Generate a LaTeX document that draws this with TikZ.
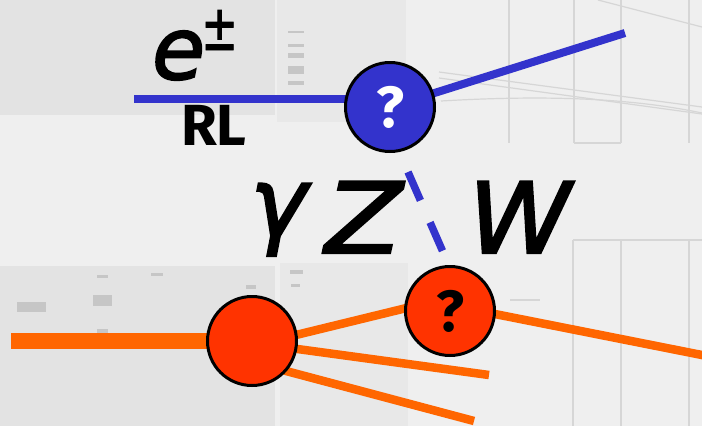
\documentclass[tikz,border=0pt]{standalone}
\usepackage{fontspec}
\setmainfont{Fira Sans}
\newfontfamily\dvs{DejaVu Sans Oblique}[FakeBold=2.2]
\newfontfamily\dvsup{DejaVu Sans}[FakeBold=1.5]
\pgfdeclarelayer{bglayer}
\pgfdeclarelayer{linelayer}
\pgfsetlayers{bglayer,linelayer,main}
\definecolor{eblue}{HTML}{3333CC}
\definecolor{oline}{HTML}{FF6600}
\definecolor{ofill}{HTML}{FF3300}
\definecolor{bgbase}{HTML}{EFEFEF}
\definecolor{bgdark}{HTML}{E3E3E3}
\definecolor{bgmid}{HTML}{E8E8E8}
\definecolor{faint}{HTML}{D6D6D6}
\definecolor{mark}{HTML}{C6C6C6}
\tikzset{
  blob/.style={circle, draw=black, line width=3pt, minimum size=89pt, inner sep=0pt,
    font=\fontsize{58}{58}\bfseries\selectfont},
  bluevertex/.style={blob, fill=eblue, text=white},
  orangevertex/.style={blob, fill=ofill, text=black},
  bluelinestyle/.style={draw=eblue, line width=8pt},
  orangeline/.style={draw=oline, line width=8.5pt},
  beamline/.style={draw=oline, line width=16pt},
  bosonline/.style={draw=eblue, line width=7.5pt, dash pattern=on 31pt off 24pt},
  bigletter/.style={inner sep=0pt, anchor=base west, font=\dvs\fontsize{98}{98}\selectfont},
  bgline/.style={draw=faint, line width=1.2pt},
  bgmark/.style={fill=mark}
}
\begin{document}
\begin{tikzpicture}[x=1pt, y=-1pt]
\clip (0,0) rectangle (702,426);
\useasboundingbox (0,0) rectangle (702,426);
% ---------- faded background ----------
\begin{pgfonlayer}{bglayer}
\fill[bgbase] (0,0) rectangle (702,426);
\fill[bgdark] (0,0) rectangle (275,115);
\fill[bgmid] (277,0) rectangle (406,122);
\fill[bgdark] (0,266) rectangle (275,426);
\fill[bgmid] (280,263) rectangle (408,426);
\foreach \yy/\hh in {31/2, 44/3, 53/5, 66/8, 81/4}{
  \fill[bgmark] (288,\yy) rectangle (304,\yy+\hh);
}
\fill[bgmark] (17,302) rectangle (46,312);
\fill[bgmark] (93,295) rectangle (112,306);
\fill[bgmark] (97,275) rectangle (108,278);
\fill[bgmark] (151,273) rectangle (163,276);
\fill[bgmark] (97,329) rectangle (108,333);
\fill[bgmark] (246,285) rectangle (256,289);
\fill[bgmark] (290,270) rectangle (303,274);
\fill[bgmark] (291,284) rectangle (300,287);
\foreach \xx in {509,574,621,689}{
  \draw[bgline] (\xx,0) -- (\xx,143);
}
\draw[bgline] (574,143) -- (621,143);
\foreach \xx in {573,621,689}{
  \draw[bgline] (\xx,240) -- (\xx,426);
}
\draw[bgline] (573,240) -- (702,240);
\draw[bgline] (439,72) -- (702,107);
\draw[bgline] (439,78) -- (702,114);
\draw[bgline] (441,101) .. controls (560,94) and (640,100) .. (702,113);
\draw[bgline] (598,0) -- (702,27);
\draw[bgline] (510,300) -- (540,300);
\end{pgfonlayer}
% ---------- vertices ----------
\node[bluevertex] (bq) at (390,107) {?};
\node[orangevertex] (bigO) at (252,341) {};
\node[orangevertex] (smallO) at (450,311) {?};
% ---------- free ends ----------
\coordinate (eL) at (134,99);
\coordinate (eOut) at (625,33);
\coordinate (pL) at (11,341);
\coordinate (f2) at (489,375);
\coordinate (f3) at (474,421);
\coordinate (fOut) at (712,357);
\coordinate (dA) at (408,172);
\coordinate (dB) at (443,252);
% ---------- connectors ----------
\begin{pgfonlayer}{linelayer}
\draw[bluelinestyle] (eL) -- (eL -| bq.center);
\draw[bluelinestyle] (bq.center) -- (eOut);
\draw[beamline] (pL) -- (bigO.center);
\draw[orangeline, shorten <=-6pt, shorten >=-6pt] (bigO.8) -- (smallO.177);
\draw[orangeline, shorten <=-6pt] (bigO.-10) -- (f2);
\draw[orangeline, shorten <=-6pt] (bigO.-41) -- (f3);
\draw[orangeline, shorten <=-6pt] (smallO.-4) -- (fOut);
\draw[bosonline] (dA) -- (dB);
\end{pgfonlayer}
% ---------- labels ----------
\node[inner sep=0pt, anchor=base west, font=\dvs\fontsize{86}{86}\selectfont] (eLab) at (152,79) {e};
\node[inner sep=0pt, anchor=base west, yscale=1.45, font=\dvsup\fontsize{44}{44}\selectfont] (pm) at (201,50) {±};
\node[inner sep=0pt, anchor=base west, font=\fontsize{58}{58}\bfseries\selectfont] (rl) at (181,145) {RL};
\node[inner sep=0pt, anchor=base west, font=\dvs\fontsize{96}{96}\selectfont] (gam) at (250,236) {γ};
\node[bigletter, xscale=1.15] (zLab) at (325,253) {Z};
\node[bigletter, xscale=1.06] (wLab) at (468,253) {W};
\end{tikzpicture}
\end{document}
